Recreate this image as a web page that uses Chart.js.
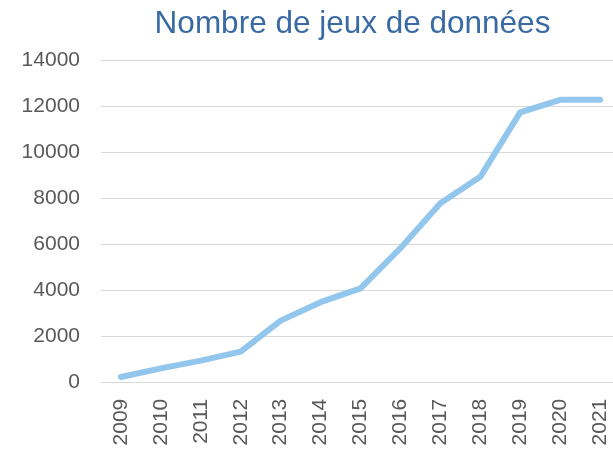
<!DOCTYPE html>
<html>
<head>
<meta charset="utf-8">
<script src="https://cdn.jsdelivr.net/npm/chart.js@4/dist/chart.umd.min.js"></script>
<style>
  html, body { margin: 0; padding: 0; background: #fff; overflow: hidden; }
  #wrap { width: 613px; height: 449px; overflow: hidden; }
</style>
</head>
<body>
<div id="wrap"><canvas id="myChart" width="620" height="449"></canvas></div>
<script>
var years = ['2009', '2010', '2011', '2012', '2013', '2014', '2015',
             '2016', '2017', '2018', '2019', '2020', '2021'];
var counts = [250, 620, 960, 1350, 2700, 3500, 4100, 5850, 7800, 8950, 11750, 12300, 12300];
var yMin = 0;
var yMax = 14000;
var yStep = 2000;
var titleText = 'Nombre de jeux de données';

// nudge the title a little left, like the original
var titleShift = {
    id: 'titleShift',
    afterLayout: function (chart) {
        if (chart.titleBlock) {
            chart.titleBlock.left -= 8;
            chart.titleBlock.right -= 8;
        }
    }
};

function renderChart() {
    var ctx = document.getElementById('myChart').getContext('2d');
    Chart.defaults.font.family = '"Liberation Sans", Arial, sans-serif';
    Chart.defaults.color = '#595959';

    new Chart(ctx, {
        type: 'line',
        data: {
            labels: years,
            datasets: [{
                data: counts,
                borderColor: '#93c6ec',
                borderWidth: 6,
                borderCapStyle: 'round',
                borderJoinStyle: 'round',
                pointRadius: 0,
                tension: 0,
                fill: false
            }]
        },
        options: {
            responsive: false,
            animation: false,
            devicePixelRatio: 1,
            layout: { padding: 0 },
            plugins: {
                legend: { display: false },
                tooltip: { enabled: false },
                title: {
                    display: true,
                    text: titleText,
                    fullSize: false,
                    color: '#3a6aa3',
                    font: { size: 31.5, weight: 'normal' },
                    padding: { top: 5, bottom: 17.9 }
                }
            },
            scales: {
                x: {
                    offset: true,
                    grid: { display: false },
                    border: { display: false },
                    ticks: {
                        autoSkip: false,
                        minRotation: 90,
                        maxRotation: 90,
                        padding: 8,
                        font: { size: 21 }
                    },
                    afterFit: function (axis) {
                        axis.height = 66.3;
                        axis.paddingLeft = 0;
                        axis.paddingRight = 0;
                    }
                },
                y: {
                    min: yMin,
                    max: yMax,
                    grid: { color: '#d9d9d9', lineWidth: 1, drawTicks: false },
                    border: { display: false },
                    ticks: {
                        stepSize: yStep,
                        padding: 21,
                        font: { size: 21 },
                        callback: function (v) { return String(v); }
                    },
                    afterFit: function (axis) {
                        axis.width = 101;
                    }
                }
            }
        },
        plugins: [titleShift]
    });
}

renderChart();
</script>
</body>
</html>
